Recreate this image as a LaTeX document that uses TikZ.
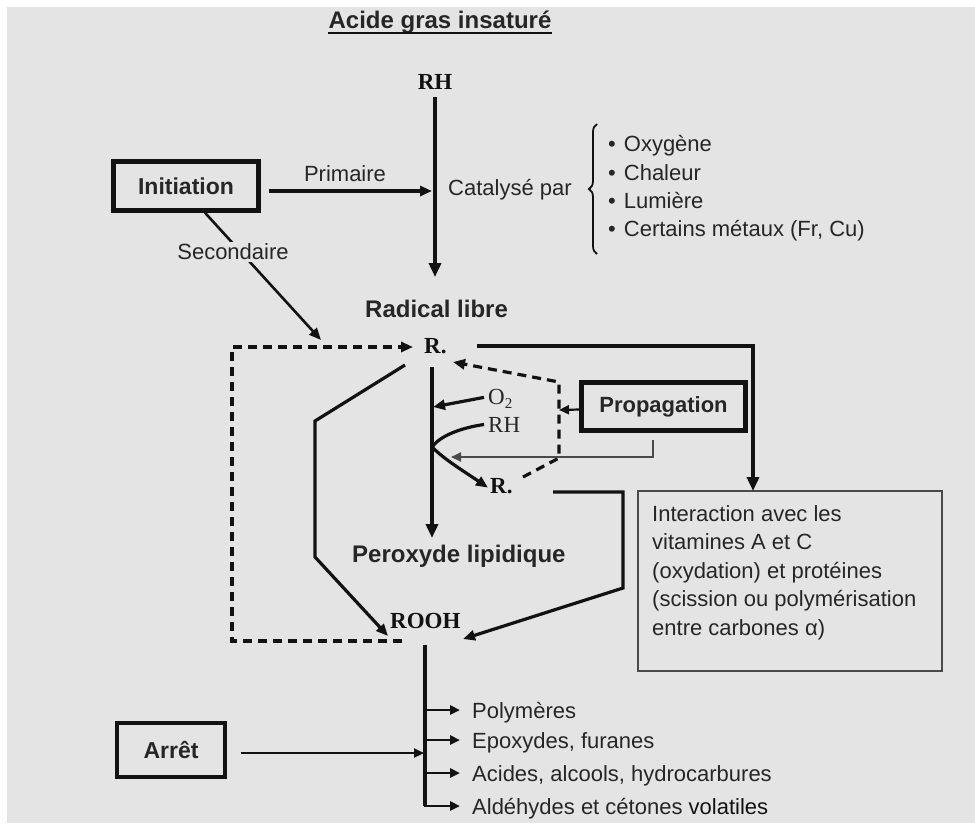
\documentclass[tikz,border=0pt]{standalone}
\usepackage{fontspec}
\setmainfont{Liberation Serif}
\setsansfont{Liberation Sans}
\usetikzlibrary{arrows.meta,decorations.pathreplacing}
\definecolor{bg}{HTML}{E4E4E4}
\definecolor{txt}{HTML}{262626}
\definecolor{ink}{HTML}{121212}
\definecolor{grayline}{HTML}{4A4A4A}
\begin{document}
\begin{tikzpicture}[x=1pt,y=-1pt,line join=miter,color=ink,
  sans/.style={font=\fontsize{22}{28.5}\selectfont\sffamily, text=txt, inner sep=0pt},
  bsans/.style={font=\fontsize{24}{28}\selectfont\sffamily\bfseries, text=txt, inner sep=0pt},
  bser/.style={font=\fontsize{23}{27}\selectfont\rmfamily\bfseries, text=ink, inner sep=0pt},
  ser/.style={font=\fontsize{23}{27}\selectfont\rmfamily, text=txt, inner sep=0pt},
  phase/.style={draw=ink, line width=4.5pt, inner sep=0pt, font=\fontsize{23}{27}\selectfont\sffamily\bfseries, text=txt},
  big/.style={-{Triangle[length=14pt,width=12pt]}},
  mid/.style={-{Triangle[length=12pt,width=10pt]}},
  small/.style={-{Triangle[length=10pt,width=9pt]}},
  dsh/.style={dash pattern=on 9pt off 6pt, line width=3.2pt},
]
\useasboundingbox (0,0) rectangle (975,823);
\fill[white] (0,0) rectangle (975,823);
\fill[bg] (7,7) rectangle (975,823);

% title
\node[bsans, anchor=base] (title) at (440,28) {Acide gras insaturé};
\draw[line width=2.2pt] ([yshift=-5pt]title.base west) -- ([yshift=-5pt]title.base east);

% top chain
\node[bser, anchor=base] (rh) at (435,89) {RH};
\coordinate (rhbot) at (435,97);
\coordinate (radtop) at (435,277);
\draw[line width=4pt, big] (rhbot) -- (radtop);

\node[phase, minimum width=145pt, minimum height=49pt] (init) at (186,186) {Initiation};
\coordinate (catp) at (432,191);
\draw[line width=3.2pt, mid] ([xshift=8pt,yshift=-5pt]init.east) -- (catp);
\node[sans, anchor=base] (prim) at (345,181) {Primaire};
\node[sans, anchor=base west] (cat) at (448,195) {Catalysé par};
\coordinate (brb) at (597,254);
\coordinate (brt) at (597,124);
\draw[line width=1.8pt, decorate, decoration={brace, amplitude=8pt}] (brb) -- (brt);
\node[sans, anchor=base west] (b1) at (608,151) {\textbullet\hspace{8pt}Oxygène};
\node[sans, anchor=base west] (b2) at (608,180) {\textbullet\hspace{8pt}Chaleur};
\node[sans, anchor=base west] (b3) at (608,208) {\textbullet\hspace{8pt}Lumière};
\node[sans, anchor=base west] (b4) at (608,236) {\textbullet\hspace{8pt}Certains métaux (Fr, Cu)};

% secondaire
\coordinate (secend) at (321,340);
\draw[line width=2.6pt, mid] ([xshift=19pt]init.south) -- (secend);
\node[sans, fill=bg, inner sep=2pt] (sec) at (233,252) {Secondaire};

\node[bsans, anchor=base west] (rad) at (365,317) {Radical libre};
\node[bser, anchor=base west] (r1) at (424,353) {R.};

% dashed loop ROOH -> R.
\coordinate (dA) at (402,641);
\coordinate (dB) at (232,641);
\coordinate (dC) at (232,347);
\coordinate (dD) at (413,347);
\draw[dsh, mid] (dA) -- (dB) -- (dC) -- (dD);

% R. -> interaction
\coordinate (tA) at (477,346);
\coordinate (tB) at (753,346);
\node[draw=grayline, line width=2pt, minimum width=304pt, minimum height=180pt, inner sep=0pt, outer sep=0pt, anchor=north west] (inter) at (638,491) {};
\draw[line width=4.5pt, big] (tA) -- (tB) -- (tB |- inter.north);
\node[sans, anchor=north west, align=left] (intert) at (652,505) {Interaction avec les\\vitamines A et C\\(oxydation) et protéines\\(scission ou polymérisation\\entre carbones α)};

% left solid path R. -> ROOH
\coordinate (lA) at (405,365);
\coordinate (lB) at (315,421);
\coordinate (lC) at (315,557);
\coordinate (lD) at (388,636);
\draw[line width=3.2pt, mid] (lA) -- (lB) -- (lC) -- (lD);

% main vertical R. -> peroxyde
\coordinate (vA) at (432,367);
\coordinate (vB) at (432,538);
\draw[line width=3.6pt, big] (vA) -- (vB);

% O2, RH, R.
\node[ser, anchor=base west] (o2) at (488,404) {O\raisebox{-4pt}{\fontsize{15}{15}\selectfont 2}};
\coordinate (o2v) at (433,407);
\draw[line width=3.2pt, mid] ([xshift=-4pt,yshift=1pt]o2.west) -- (o2v);
\node[ser, anchor=base west] (rh2) at (488,432) {RH};
\coordinate (cv) at (432,447);
\draw[line width=3.2pt] ([xshift=-4pt]rh2.west) .. controls (460,428) and (440,436) .. (cv);
\node[bser, anchor=base west] (r2) at (490,493) {R.};
\draw[line width=3.2pt, mid] (cv) .. controls (445,460) and (465,472) .. ([xshift=-2pt,yshift=-2pt]r2.west);

% propagation
\node[phase, font=\fontsize{22}{26}\selectfont\sffamily\bfseries, minimum width=164pt, minimum height=48pt] (prop) at (663.5,406.5) {Propagation};
\coordinate (pd) at (559,410);
\draw[line width=2.2pt, small] ([yshift=-3pt]prop.west) -- (pd);
\coordinate (eA) at (523,477);
\coordinate (eB) at (559,458);
\coordinate (eC) at (559,382);
\coordinate (eD) at (453,362);
\draw[dsh, mid] (eA) -- (eB) -- (eC) -- (eD);
\coordinate (gA) at (653,440);
\coordinate (gB) at (653,457);
\coordinate (gC) at (451,457);
\draw[draw=grayline, line width=1.8pt, small] (gA) -- (gB) -- (gC);

% R. (2) -> ROOH
\coordinate (kA) at (553,492);
\coordinate (kB) at (623,492);
\coordinate (kC) at (623,588);
\coordinate (kD) at (463,639);
\draw[line width=3.2pt, mid] (kA) -- (kB) -- (kC) -- (kD);

\node[bsans, anchor=base west] (perox) at (352,562) {Peroxyde lipidique};
\node[bser, anchor=base west] (rooh) at (390,628) {ROOH};

% products
\coordinate (pA) at (425,645);
\coordinate (p1) at (425,710);
\coordinate (p2) at (425,740);
\coordinate (p3) at (425,773);
\coordinate (p4) at (425,806);
\draw[line width=3.2pt] (pA) -- (p4);
\node[sans, anchor=base west] (t1) at (472,718) {Polymères};
\node[sans, anchor=base west] (t2) at (472,748) {Epoxydes, furanes};
\node[sans, anchor=base west] (t3) at (472,781) {Acides, alcools, hydrocarbures};
\node[sans, anchor=base west] (t4) at (472,814) {Aldéhydes et cétones {\color{ink}volatiles}};
\draw[line width=2.6pt, small] (p1) -- ([xshift=-12pt]p1 -| t1.west);
\draw[line width=2.6pt, small] (p2) -- ([xshift=-12pt]p2 -| t2.west);
\draw[line width=2.6pt, small] (p3) -- ([xshift=-12pt]p3 -| t3.west);
\draw[line width=2.6pt, small] ([xshift=-1.3pt]p4) -- ([xshift=-12pt]p4 -| t4.west);

% arret
\node[phase, minimum width=108pt, minimum height=54pt] (arret) at (171,750) {Arrêt};
\coordinate (aEnd) at (424,753);
\draw[line width=2.2pt, small] ([xshift=14pt,yshift=-3pt]arret.east) -- (aEnd);
\end{tikzpicture}
\end{document}
